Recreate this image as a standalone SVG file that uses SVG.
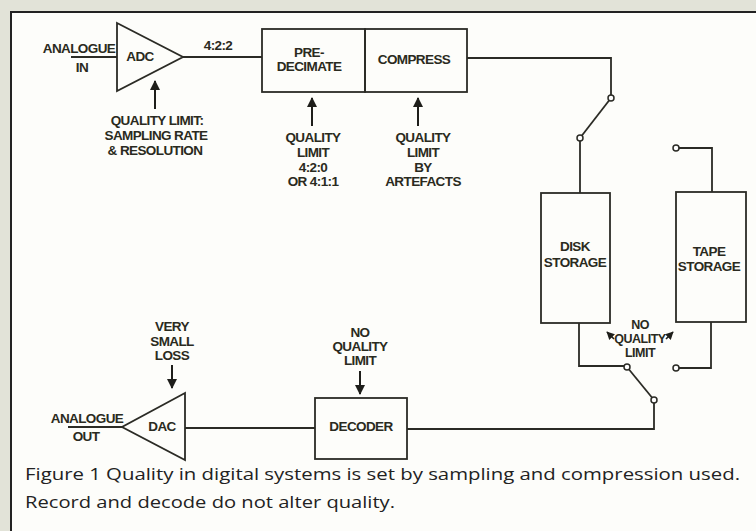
<svg xmlns="http://www.w3.org/2000/svg" width="756" height="531" viewBox="0 0 756 531">
<defs>
<style>
.ln{fill:none;stroke:#2b2b25;stroke-width:1.8;stroke-linejoin:miter}
.bx{fill:none;stroke:#2b2b25;stroke-width:1.8}
.t{font-family:"Liberation Sans",Arial,sans-serif;font-weight:bold;font-size:13.5px;fill:#2a2a20;text-anchor:middle;letter-spacing:-0.6px}
.ts{font-family:"Liberation Sans",Arial,sans-serif;font-weight:bold;font-size:12.5px;fill:#2a2a20;text-anchor:middle;letter-spacing:-0.5px}
.cap{font-family:"Open Sans","Liberation Sans",sans-serif;font-size:17px;fill:#222}
.ct{fill:#fff;stroke:#2b2b25;stroke-width:1.5}
.ar{fill:none;stroke:#1e1e1a;stroke-width:2}
</style>
<marker id="ah" viewBox="0 0 10 10" refX="9" refY="5" markerWidth="5" markerHeight="5" orient="auto" markerUnits="strokeWidth">
<path d="M0,0 L10,5 L0,10 Z" fill="#1e1e1a"/>
</marker>
<marker id="ahs" viewBox="0 0 10 10" refX="9" refY="5" markerWidth="5" markerHeight="5" orient="auto" markerUnits="strokeWidth">
<path d="M0,0 L10,5 L0,10 Z" fill="#1e1e1a"/>
</marker>
</defs>
<rect x="0" y="0" width="756" height="531" fill="#e2e3d8"/>
<rect x="11" y="12" width="745" height="519" fill="#fdfdfa"/>
<path d="M11,531 V12 H756" fill="none" stroke="#222" stroke-width="2"/>

<g id="connectors">
<path class="ln" d="M71,57 H117"/>
<path class="ln" d="M183,57 H262"/>
<path class="ln" d="M467,58 H611 V95"/>
<path class="ln" d="M611,98 L580,138"/>
<path class="ln" d="M580,141 V193"/>
<path class="ln" d="M679,148 H712 V192"/>
<path class="ln" d="M579,323 V366 H624"/>
<path class="ln" d="M711,322 V368 H679"/>
<path class="ln" d="M627,367 L654,400"/>
<path class="ln" d="M654,403 V429 H407"/>
<path class="ln" d="M315,428 H185"/>
<path class="ln" d="M122,427 H68"/>
<circle class="ct" cx="611" cy="98" r="3"/>
<circle class="ct" cx="580" cy="138" r="3"/>
<circle class="ct" cx="676" cy="148" r="3"/>
<circle class="ct" cx="627" cy="367" r="3"/>
<circle class="ct" cx="676" cy="368" r="3"/>
<circle class="ct" cx="654" cy="400" r="3"/>
</g>

<g id="adc">
<path class="bx" d="M117,23 L183,57 L117,91 Z"/>
<text class="t" x="140" y="61">ADC</text>
</g>
<g id="analogue-in">
<text class="t" x="79" y="53">ANALOGUE</text>
<text class="t" x="82" y="72">IN</text>
</g>
<g id="label-422">
<text class="t" x="218" y="50">4:2:2</text>
</g>
<g id="adc-limit">
<path class="ar" d="M155,109 V81" marker-end="url(#ah)"/>
<text class="t" x="157" y="125">QUALITY LIMIT:</text>
<text class="t" x="156" y="140">SAMPLING RATE</text>
<text class="t" x="155" y="155">&amp; RESOLUTION</text>
</g>
<g id="predecimate">
<rect class="bx" x="262" y="29" width="103" height="63"/>
<text class="t" x="309" y="57">PRE-</text>
<text class="t" x="309" y="71">DECIMATE</text>
</g>
<g id="compress">
<rect class="bx" x="365" y="29" width="102" height="63"/>
<text class="t" x="414" y="64">COMPRESS</text>
</g>
<g id="predecimate-limit">
<path class="ar" d="M312,126 V98" marker-end="url(#ah)"/>
<text class="t" x="313" y="142">QUALITY</text>
<text class="t" x="313" y="157">LIMIT</text>
<text class="t" x="313" y="172">4:2:0</text>
<text class="t" x="313" y="186">OR 4:1:1</text>
</g>
<g id="compress-limit">
<path class="ar" d="M418,126 V98" marker-end="url(#ah)"/>
<text class="t" x="423" y="142">QUALITY</text>
<text class="t" x="423" y="157">LIMIT</text>
<text class="t" x="423" y="172">BY</text>
<text class="t" x="423" y="186">ARTEFACTS</text>
</g>
<g id="disk">
<rect class="bx" x="541" y="193" width="69" height="130"/>
<text class="t" x="575" y="251">DISK</text>
<text class="t" x="575" y="267">STORAGE</text>
</g>
<g id="tape">
<rect class="bx" x="676" y="192" width="70" height="130"/>
<text class="t" x="709" y="256">TAPE</text>
<text class="t" x="709" y="271">STORAGE</text>
</g>
<g id="storage-limit">
<text class="ts" x="640" y="329">NO</text>
<text class="ts" x="640" y="343">QUALITY</text>
<text class="ts" x="640" y="357">LIMIT</text>
<path d="M614,339 L607,332" stroke="#1e1e1a" stroke-width="1.6" marker-end="url(#ahs)"/>
<path d="M666,339 L673,332" stroke="#1e1e1a" stroke-width="1.6" marker-end="url(#ahs)"/>
</g>
<g id="dac">
<path class="bx" d="M185,393 L122,427 L185,460 Z"/>
<text class="t" x="162" y="431">DAC</text>
</g>
<g id="analogue-out">
<text class="t" x="87" y="423">ANALOGUE</text>
<text class="t" x="86" y="441">OUT</text>
</g>
<g id="dac-loss">
<text class="t" x="172" y="331">VERY</text>
<text class="t" x="172" y="346">SMALL</text>
<text class="t" x="172" y="360">LOSS</text>
<path class="ar" d="M172,365 V388" marker-end="url(#ah)"/>
</g>
<g id="decoder">
<rect class="bx" x="315" y="398" width="92" height="61"/>
<text class="t" x="361" y="431">DECODER</text>
</g>
<g id="decoder-limit">
<text class="t" x="360" y="337">NO</text>
<text class="t" x="360" y="351">QUALITY</text>
<text class="t" x="360" y="365">LIMIT</text>
<path class="ar" d="M360,371 V394" marker-end="url(#ah)"/>
</g>
<g id="caption">
<text class="cap" x="25" y="480" textLength="715" lengthAdjust="spacingAndGlyphs">Figure 1 Quality in digital systems is set by sampling and compression used.</text>
<text class="cap" x="25" y="508" textLength="370" lengthAdjust="spacingAndGlyphs">Record and decode do not alter quality.</text>
</g>
</svg>
